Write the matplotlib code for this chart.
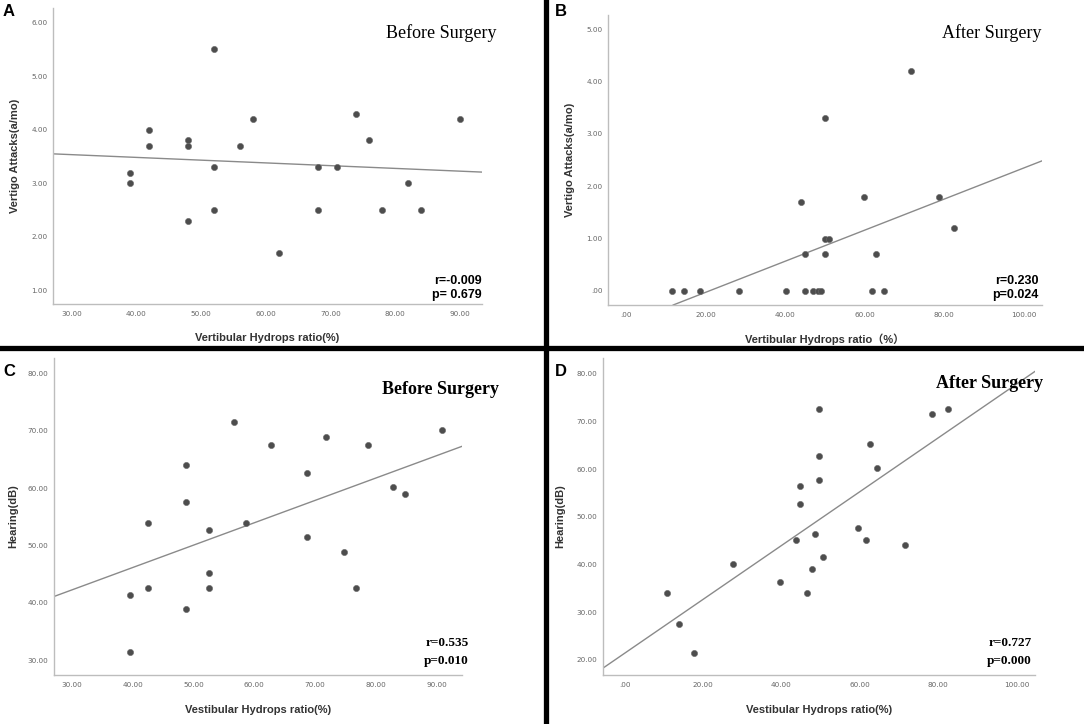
import matplotlib
matplotlib.use("Agg")
import matplotlib.pyplot as plt
from matplotlib.lines import Line2D

W, H = 1084, 724

# ---------------- data ----------------
# Panel A: before surgery, vertigo attacks
a_x = [39, 39, 42, 42, 48, 48, 48, 52, 52, 52, 56, 58, 62, 68, 68, 71, 74, 76, 78, 82, 84, 90]
a_y = [3.2, 3.0, 4.0, 3.7, 3.8, 3.7, 2.3, 5.5, 3.3, 2.5, 3.7, 4.2, 1.7, 3.3, 2.5, 3.3, 4.3, 3.8, 2.5, 3.0, 2.5, 4.2]
a_fit = (3.689, -0.00513)  # intercept, slope

# Panel B: after surgery, vertigo attacks
b_x = [11.7, 14.7, 18.6, 28.4, 40.3, 45.1, 47.1, 48.2, 49.1, 61.8, 64.8,
       44.1, 45.1, 50.1, 50.1, 51.1, 50.1, 59.9, 62.9, 71.6, 78.6, 82.6]
b_y = [0, 0, 0, 0, 0, 0, 0, 0, 0, 0, 0,
       1.7, 0.7, 3.3, 1.0, 1.0, 0.7, 1.8, 0.7, 4.2, 1.8, 1.2]
b_fit = (-0.623, 0.0297)

# Panel C: before surgery, hearing
c_x = [39.6, 39.6, 42.6, 42.6, 48.7, 48.7, 48.7, 52.6, 52.6, 52.6, 56.6, 58.6, 62.7, 68.7, 68.7,
       71.7, 74.7, 76.7, 78.7, 82.8, 84.8, 90.8]
c_y = [41.4, 31.4, 54.0, 42.6, 64.0, 57.6, 38.9, 52.7, 45.2, 42.6, 71.5, 54.0, 67.6, 62.6, 51.4,
       68.9, 48.9, 42.6, 67.6, 60.2, 59.0, 70.2]
c_fit = (30.5, 0.391)

# Panel D: after surgery, hearing
d_x = [10.9, 13.9, 17.8, 27.7, 39.7, 43.7, 44.7, 44.7, 46.6, 47.7, 48.6, 49.6, 49.6, 49.6, 50.6,
       59.6, 61.5, 62.6, 64.5, 71.5, 78.5, 82.5]
d_y = [34.0, 27.6, 21.5, 40.2, 36.4, 45.2, 56.5, 52.7, 34.0, 39.0, 46.5, 72.7, 62.7, 57.7, 41.5,
       47.7, 45.2, 65.2, 60.2, 44.0, 71.5, 72.7]
d_fit = (21.4, 0.5644)

ticks_30_90 = [30, 40, 50, 60, 70, 80, 90]
ticks_0_100 = [0, 20, 40, 60, 80, 100]
a_yticks = [1, 2, 3, 4, 5, 6]
b_yticks = [0, 1, 2, 3, 4, 5]
c_yticks = [30, 40, 50, 60, 70, 80]
d_yticks = [20, 30, 40, 50, 60, 70, 80]


def fmt(v):
    s = f"{v:.2f}"
    return s[1:] if s.startswith("0.") else s


fig = plt.figure(figsize=(W / 100, H / 100), dpi=100)
fig.patch.set_facecolor("white")


def fx(px):
    return px / W


def fy(py):
    return 1 - py / H


DOT = "#4d4d4d"
LINE = "#8a8a8a"
SPINE = "#bdbdbd"
TXT = "#333333"


def panel(box, xs, ys, fit, xlim, ylim, xticks, yticks, xlabel, ylabel,
          xlab_off, ylab_off, lab_family=None):
    l, r, t, b = box
    ax = fig.add_axes([fx(l), fy(b), (r - l) / W, (b - t) / H])
    ax.set_xlim(*xlim)
    ax.set_ylim(*ylim)
    for s in ("top", "right"):
        ax.spines[s].set_visible(False)
    for s in ("left", "bottom"):
        ax.spines[s].set_color(SPINE)
        ax.spines[s].set_linewidth(1.0)
    ax.axline((0, fit[0]), slope=fit[1], color=LINE, lw=1.0, zorder=2)
    ax.scatter(xs, ys, s=20, color=DOT, edgecolors="#6a6a6a", linewidths=0.4, zorder=3)
    ax.set_xticks(xticks)
    ax.set_xticklabels([fmt(v) for v in xticks])
    ax.set_yticks(yticks)
    ax.set_yticklabels([fmt(v) for v in yticks])
    ax.tick_params(length=0, labelsize=5.2, labelcolor="#666666", pad=5)
    ax.tick_params(axis="y", pad=4)
    fam = lab_family or ["Liberation Sans"]
    ax.set_xlabel(xlabel, fontsize=8, fontweight="bold", color=TXT, family=fam)
    ax.set_ylabel(ylabel, fontsize=8, fontweight="bold", color=TXT, family=fam)
    ax.xaxis.set_label_coords(0.5, -xlab_off / (b - t))
    ax.yaxis.set_label_coords(-ylab_off / (r - l), 0.5)
    ax.patch.set_alpha(0)
    return ax


panel((53, 482, 8, 304), a_x, a_y, a_fit, (27.1, 93.4), (0.75, 6.27), ticks_30_90, a_yticks,
      "Vertibular Hydrops ratio(%)", "Vertigo Attacks(a/mo)", 29, 33)
panel((608, 1042, 15, 305), b_x, b_y, b_fit, (-4.5, 104.6), (-0.27, 5.27), ticks_0_100, b_yticks,
      "Vertibular Hydrops ratio\uff08%\uff09", "Vertigo Attacks(a/mo)", 28, 33,
      lab_family=["Liberation Sans", "Noto Sans CJK SC"])
panel((54, 462, 358, 675), c_x, c_y, c_fit, (27.1, 94.1), (27.4, 82.7), ticks_30_90, c_yticks,
      "Vestibular Hydrops ratio(%)", "Hearing(dB)", 30, 36)
panel((603, 1035, 358, 675), d_x, d_y, d_fit, (-5.5, 104.7), (16.85, 83.3), ticks_0_100, d_yticks,
      "Vestibular Hydrops ratio(%)", "Hearing(dB)", 30, 38)

# Titles
fig.text(fx(497), fy(33), "Before Surgery", ha="right", va="center", fontsize=13,
         family="Liberation Serif", color="black")
fig.text(fx(1042), fy(33), "After Surgery", ha="right", va="center", fontsize=13,
         family="Liberation Serif", color="black")
fig.text(fx(499), fy(389), "Before Surgery", ha="right", va="center", fontsize=13,
         family="Liberation Serif", fontweight="bold", color="black")
fig.text(fx(1043), fy(384), "After Surgery", ha="right", va="center", fontsize=13,
         family="Liberation Serif", fontweight="bold", color="black")

# Statistics
fig.text(fx(482), fy(281), "r=-0.009", ha="right", va="center", fontsize=9,
         family="Liberation Sans", fontweight="bold")
fig.text(fx(482), fy(295), "p= 0.679", ha="right", va="center", fontsize=9,
         family="Liberation Sans", fontweight="bold")
fig.text(fx(1039), fy(281), "r=0.230", ha="right", va="center", fontsize=9,
         family="Liberation Sans", fontweight="bold")
fig.text(fx(1039), fy(295), "p=0.024", ha="right", va="center", fontsize=9,
         family="Liberation Sans", fontweight="bold")
fig.text(fx(469), fy(643), "r=0.535", ha="right", va="center", fontsize=9.5,
         family="Liberation Serif", fontweight="bold")
fig.text(fx(469), fy(661), "p=0.010", ha="right", va="center", fontsize=9.5,
         family="Liberation Serif", fontweight="bold")
fig.text(fx(1032), fy(643), "r=0.727", ha="right", va="center", fontsize=9.5,
         family="Liberation Serif", fontweight="bold")
fig.text(fx(1032), fy(661), "p=0.000", ha="right", va="center", fontsize=9.5,
         family="Liberation Serif", fontweight="bold")

# Panel letters
for letter, (px, py) in zip("ABCD", [(9, 12), (561, 12), (9, 372), (561, 372)]):
    fig.text(fx(px), fy(py), letter, ha="center", va="center", fontsize=12,
             family="Liberation Sans", fontweight="bold")

# Dividers
fig.add_artist(Line2D([0, 1], [fy(348), fy(348)], transform=fig.transFigure,
                      color="black", lw=3.8))
fig.add_artist(Line2D([fx(546), fx(546)], [0, 1], transform=fig.transFigure,
                      color="black", lw=3.8))

fig.savefig("out.png", dpi=100, facecolor="white")
